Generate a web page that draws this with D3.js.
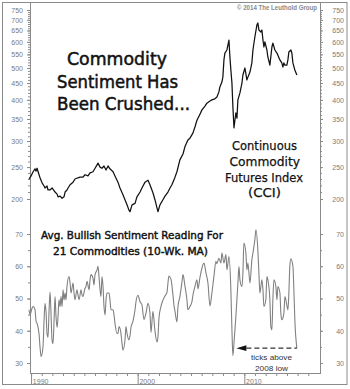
<!DOCTYPE html>
<html><head><meta charset="utf-8">
<script src="https://cdn.jsdelivr.net/npm/d3@7"></script>
<style>body{margin:0;background:#fff}svg{display:block}</style>
</head><body><svg id="c" width="350" height="389"></svg>
<script>
// CCI index (log scale), [decimal year, value]
const cciSeries = [[1989.81,230],[1990.00,235],[1990.19,242],[1990.37,247],[1990.47,243],[1990.56,248],[1990.66,242],[1990.84,232],[1991.03,224],[1991.22,219],[1991.31,216],[1991.50,219],[1991.59,213],[1991.78,213],[1991.97,216],[1992.25,210],[1992.44,207],[1992.53,203],[1992.72,204],[1992.91,201],[1993.09,203],[1993.19,210],[1993.37,213],[1993.47,216],[1993.66,221],[1993.94,225],[1994.12,230],[1994.40,232],[1994.59,233],[1994.87,233],[1995.06,237],[1995.34,235],[1995.53,240],[1995.81,242],[1996.00,248],[1996.19,254],[1996.28,257],[1996.47,250],[1996.65,248],[1996.84,252],[1997.03,245],[1997.22,252],[1997.40,247],[1997.69,242],[1997.87,235],[1998.15,225],[1998.34,216],[1998.62,206],[1998.81,199],[1999.00,192],[1999.18,185],[1999.28,183],[1999.47,192],[1999.75,194],[1999.93,203],[2000.22,210],[2000.40,216],[2000.69,225],[2000.97,228],[2001.15,221],[2001.43,209],[2001.62,199],[2001.81,188],[2001.90,183],[2002.09,192],[2002.37,199],[2002.56,204],[2002.84,210],[2003.03,216],[2003.21,221],[2003.50,233],[2003.68,242],[2003.96,263],[2004.25,274],[2004.43,288],[2004.71,302],[2004.90,306],[2005.18,317],[2005.37,331],[2005.56,347],[2005.84,362],[2006.03,373],[2006.31,383],[2006.49,391],[2006.78,397],[2006.96,400],[2007.24,403],[2007.43,408],[2007.62,423],[2007.71,438],[2007.90,453],[2007.99,469],[2008.09,529],[2008.18,555],[2008.37,567],[2008.56,608],[2008.65,540],[2008.74,493],[2008.84,450],[2008.93,381],[2009.03,329],[2009.12,347],[2009.21,365],[2009.31,352],[2009.40,400],[2009.59,420],[2009.78,450],[2009.87,476],[2010.06,500],[2010.24,460],[2010.34,469],[2010.53,486],[2010.71,518],[2010.81,567],[2010.99,621],[2011.18,675],[2011.27,685],[2011.37,652],[2011.56,643],[2011.65,652],[2011.75,608],[2011.84,579],[2011.93,600],[2012.12,567],[2012.21,540],[2012.40,510],[2012.59,579],[2012.68,595],[2012.87,567],[2013.06,555],[2013.15,547],[2013.34,529],[2013.52,518],[2013.62,503],[2013.71,518],[2013.81,510],[2013.99,510],[2014.09,529],[2014.18,559],[2014.37,567],[2014.46,555],[2014.56,518],[2014.74,493],[2014.93,476]];

// Avg. bullish sentiment (10-wk MA), [decimal year, value]
const sentSeries = [[1989.81,46.5],[1989.91,45],[1990.09,47],[1990.19,47.5],[1990.37,46.5],[1990.47,43],[1990.56,42.3],[1990.75,39],[1990.84,35],[1990.94,32],[1991.12,35],[1991.22,43.4],[1991.31,48.5],[1991.41,45.5],[1991.50,39],[1991.59,38],[1991.69,46.5],[1991.78,52],[1991.87,45.5],[1991.97,37],[1992.06,36],[1992.16,43.4],[1992.25,50.6],[1992.34,44.4],[1992.44,41],[1992.53,44.4],[1992.62,49.6],[1992.72,47.5],[1992.81,50.6],[1992.91,47.5],[1993.00,52.7],[1993.09,49.6],[1993.19,51.7],[1993.28,49.6],[1993.37,53.7],[1993.56,56.8],[1993.66,54.8],[1993.75,51.7],[1993.94,54.8],[1994.03,51.7],[1994.12,49.6],[1994.31,52.7],[1994.40,51.1],[1994.50,49.6],[1994.69,52.7],[1994.78,51.1],[1994.87,50.6],[1995.06,53.2],[1995.15,53.7],[1995.25,55.3],[1995.44,52.7],[1995.53,55.8],[1995.62,57.4],[1995.81,56.3],[1995.90,54.2],[1996.00,57.4],[1996.19,58.9],[1996.28,60],[1996.37,56.8],[1996.47,52.7],[1996.56,50.6],[1996.65,56.8],[1996.75,53.7],[1996.84,47.5],[1996.94,44.9],[1997.03,49.6],[1997.12,51.7],[1997.31,51.7],[1997.40,49.6],[1997.50,46.5],[1997.69,46.5],[1997.78,44.9],[1997.87,42.3],[1998.06,39.2],[1998.15,39.2],[1998.25,41.3],[1998.43,39.2],[1998.53,36.1],[1998.62,34],[1998.81,37.2],[1998.90,41.3],[1999.00,39.2],[1999.18,37.2],[1999.28,38.5],[1999.37,41],[1999.56,43],[1999.75,46.5],[1999.84,49],[2000.03,51],[2000.22,49],[2000.40,48],[2000.59,43.5],[2000.78,45.5],[2000.97,48.5],[2001.15,45.5],[2001.25,39.5],[2001.43,46],[2001.62,40],[2001.81,36.5],[2001.90,38],[2002.00,44],[2002.18,47.5],[2002.37,49.5],[2002.56,50.8],[2002.75,52],[2002.84,54.8],[2002.93,57],[2003.12,56],[2003.31,51],[2003.40,48],[2003.50,46],[2003.68,42.7],[2003.78,47.5],[2003.96,50.6],[2004.15,55],[2004.25,57.4],[2004.43,54],[2004.62,49.6],[2004.71,46.5],[2004.90,47.5],[2005.09,49],[2005.18,51],[2005.37,53.7],[2005.56,55.8],[2005.65,53],[2005.84,56.5],[2006.03,59.5],[2006.12,60.5],[2006.22,61],[2006.40,58],[2006.59,54.8],[2006.78,47.7],[2006.96,51.7],[2007.15,56.8],[2007.34,61.5],[2007.43,60.8],[2007.62,62.5],[2007.81,61],[2007.90,64.1],[2008.09,61],[2008.28,63.6],[2008.37,58.9],[2008.56,63],[2008.74,52.7],[2008.84,40.3],[2008.93,32.3],[2009.03,36.1],[2009.21,44.4],[2009.40,54.8],[2009.50,59.9],[2009.59,55.8],[2009.78,53.7],[2009.87,57.9],[2009.96,67.2],[2010.15,64.1],[2010.24,58.9],[2010.34,61],[2010.53,54.8],[2010.71,62],[2010.81,64.1],[2010.99,68.2],[2011.09,71.3],[2011.27,65.1],[2011.37,57.9],[2011.46,51.7],[2011.65,55.8],[2011.75,52.7],[2011.84,47.5],[2012.02,49.6],[2012.12,56.8],[2012.21,55.8],[2012.40,49.6],[2012.49,41.3],[2012.59,40.3],[2012.68,49.6],[2012.78,55.8],[2012.96,53.7],[2013.06,49.6],[2013.15,53.7],[2013.34,51.7],[2013.43,45.4],[2013.52,43.4],[2013.71,45.4],[2013.81,50.6],[2013.90,49.6],[2014.09,46.5],[2014.18,51.7],[2014.27,60],[2014.37,62.3],[2014.56,60],[2014.65,52.7],[2014.74,43.4],[2014.93,34.6]];

const cciTicks = [200,250,300,350,400,450,500,550,600,650,700,750];
const cciMinor = d3.range(200, 751, 10);
const sentTicks = [30,40,50,60,70];
const sentMinor = [30,35,40,45,50,55,60,65,70];
const yearLabels = [1990,2000,2010];
const yearMinor = d3.range(1990, 2017);
const low2008 = [2008.93, 32.3];

const svg = d3.select('#c');
const L = 30, R = 320, T = 2, B = 373;
const x = d3.scaleLinear().domain([1989.9, 2017.1]).range([L, R]);
const yTop = d3.scaleLog().domain([200, 750]).range([199, 10]);
const yBot = d3.scaleLinear().domain([30, 70]).range([363, 234]);
const labelFont = '"Liberation Sans", Arial, sans-serif';
const gray = '#7a7a7a';

// outer frame
svg.append('rect').attr('x', 2.5).attr('y', 2.5).attr('width', 344.5).attr('height', 382)
  .attr('fill', 'none').attr('stroke', '#8a8a8a').attr('stroke-width', 1);

function styleAxis(g) {
  g.select('.domain').remove();
  g.selectAll('line').attr('stroke', '#8a8a8a');
  g.selectAll('text').attr('font-family', labelFont).attr('font-size', 7).attr('fill', gray);
}
function leftAxis(scale, major, minor) {
  svg.append('g').attr('transform', `translate(${L},0)`)
    .call(d3.axisLeft(scale).tickValues(minor).tickSize(2).tickFormat(''))
    .call(styleAxis);
  svg.append('g').attr('transform', `translate(${L},0)`)
    .call(d3.axisLeft(scale).tickValues(major).tickSize(3).tickPadding(4).tickFormat(d3.format('d')))
    .call(styleAxis);
}
function rightAxis(scale, major, minor) {
  svg.append('g').attr('transform', `translate(${R},0)`)
    .call(d3.axisRight(scale).tickValues(minor).tickSize(2).tickFormat(''))
    .call(styleAxis);
  svg.append('g').attr('transform', `translate(${R},0)`)
    .call(d3.axisRight(scale).tickValues(major).tickSize(3).tickFormat(d3.format('d')))
    .call(styleAxis)
    .call(g => g.selectAll('text').attr('x', 344 - R).attr('text-anchor', 'end'));
}
leftAxis(yTop, cciTicks, cciMinor);
rightAxis(yTop, cciTicks, cciMinor);
leftAxis(yBot, sentTicks, sentMinor);
rightAxis(yBot, sentTicks, sentMinor);

// plot borders
svg.append('line').attr('x1', L + .5).attr('x2', L + .5).attr('y1', T).attr('y2', B).attr('stroke', '#8a8a8a');
svg.append('line').attr('x1', R + .5).attr('x2', R + .5).attr('y1', T).attr('y2', B).attr('stroke', '#8a8a8a');
svg.append('line').attr('x1', L).attr('x2', R + 1).attr('y1', B + .5).attr('y2', B + .5).attr('stroke', '#8a8a8a');

// x axis
const xg = svg.append('g').attr('transform', `translate(0,${B})`);
xg.call(d3.axisBottom(x).tickValues(yearMinor).tickSize(3).tickFormat('')).call(styleAxis);
const xm = svg.append('g').attr('transform', `translate(0,${B})`);
xm.call(d3.axisBottom(x).tickValues(yearLabels).tickSize(12).tickFormat('')).call(styleAxis);
svg.append('g').selectAll('text').data(yearLabels).join('text')
  .attr('x', d => x(d) + 1.8).attr('y', 383.5)
  .attr('font-family', labelFont).attr('font-size', 7).attr('fill', gray)
  .text(d => d);

// lines
svg.append('path').datum(cciSeries)
  .attr('d', d3.line().x(d => x(d[0])).y(d => yTop(d[1])))
  .attr('fill', 'none').attr('stroke', '#111').attr('stroke-width', 1.25).attr('stroke-linejoin', 'round');
svg.append('path').datum(sentSeries)
  .attr('d', d3.line().curve(d3.curveMonotoneX).x(d => x(d[0])).y(d => yBot(d[1])))
  .attr('fill', 'none').attr('stroke', '#808080').attr('stroke-width', 1.1).attr('stroke-linejoin', 'round');

// dashed arrow from last reading back to 2008 low
const last = sentSeries[sentSeries.length - 1];
const ay = yBot(last[1]);
const tipX = x(low2008[0]) + 3.5;
svg.append('line').attr('x1', tipX + 10).attr('x2', x(last[0])).attr('y1', ay).attr('y2', ay)
  .attr('stroke', '#333').attr('stroke-width', 1.4).attr('stroke-dasharray', '5,3');
svg.append('path').attr('d', `M${tipX},${ay} L${tipX + 10},${ay - 2.8} L${tipX + 10},${ay + 2.8} Z`).attr('fill', '#111');

// texts
function txt(s, xx, yy, size, len, opts = {}) {
  const t = svg.append('text').attr('x', xx).attr('y', yy)
    .attr('font-family', opts.family || '"DejaVu Sans", sans-serif')
    .attr('font-size', size).attr('font-weight', opts.weight || 'normal')
    .attr('fill', opts.fill || '#111')
    .attr('textLength', len).attr('lengthAdjust', 'spacingAndGlyphs')
    .text(s);
  if (opts.thick) t.attr('stroke', opts.fill || '#111').attr('stroke-width', opts.thick);
}
txt('Commodity', 67, 65, 17, 100, {thick: 0.5});
txt('Sentiment Has', 57, 87.5, 17, 121, {thick: 0.5});
txt('Been Crushed...', 57, 110, 17, 133, {thick: 0.5});

txt('Continuous', 232, 150, 12.5, 65, {thick: 0.25});
txt('Commodity', 229.5, 166, 12.5, 70.5, {thick: 0.25});
txt('Futures Index', 225, 181.5, 12.5, 78, {thick: 0.25});
txt('(CCI)', 248, 196.5, 12.5, 33, {thick: 0.25});

txt('Avg. Bullish Sentiment Reading For', 41, 239, 11, 182, {thick: 0.45});
txt('21 Commodities (10-Wk. MA)', 53, 254.5, 11, 155, {thick: 0.45});

txt('ticks above', 251, 360, 8, 41, {family: labelFont, fill: '#333'});
txt('2008 low', 255, 370.5, 8, 33, {family: labelFont, fill: '#333'});

txt('\u00a9 2014 The Leuthold Group', 237, 9.5, 6.5, 80, {family: labelFont, weight: 'bold', fill: '#8a8a8a'});
</script></body></html>
